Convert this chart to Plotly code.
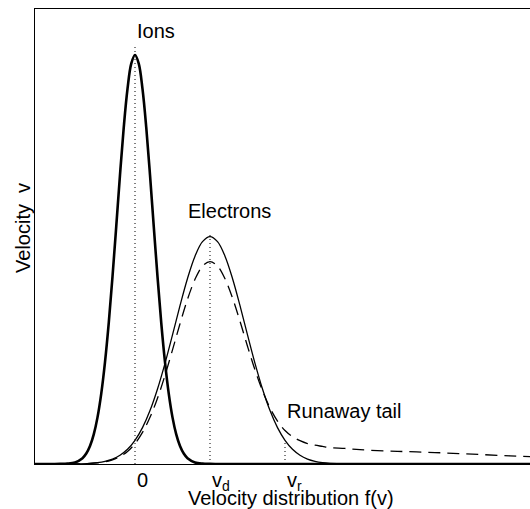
import plotly.graph_objects as go

# ---- data (velocity in units of v_d, f normalised to ion peak) ----
ion_v = [-1.4, -1.1, -1.0, -0.9, -0.8, -0.7, -0.65, -0.6, -0.55, -0.5, -0.45, -0.4, -0.35, -0.3,
         -0.25, -0.2, -0.15, -0.1, -0.05, 0.0, 0.05, 0.1, 0.15, 0.2, 0.25, 0.3, 0.35, 0.4, 0.45,
         0.5, 0.55, 0.6, 0.65, 0.7, 0.8, 0.9, 1.0, 1.1, 5.4]
ion_f = [0.0, 0.00003, 0.0002, 0.0009, 0.0039, 0.0142, 0.0255, 0.0439, 0.0724, 0.114, 0.172, 0.249,
         0.345, 0.458, 0.581, 0.707, 0.823, 0.917, 0.979, 1.0, 0.979, 0.917, 0.823, 0.707, 0.581,
         0.458, 0.345, 0.249, 0.172, 0.114, 0.0724, 0.0439, 0.0255, 0.0142, 0.0039, 0.0009, 0.0002,
         0.00003, 0.0]

elec_v = [-1.4, -0.8, -0.6, -0.5, -0.4, -0.3, -0.2, -0.1, 0.0, 0.1, 0.2, 0.3, 0.4, 0.5, 0.6, 0.7,
          0.8, 0.9, 1.0, 1.1, 1.2, 1.3, 1.4, 1.5, 1.6, 1.7, 1.8, 1.9, 2.0, 2.1, 2.2, 2.3, 2.4, 2.5,
          2.6, 2.8, 5.4]
elec_f = [0.0, 0.0004, 0.0017, 0.0034, 0.0066, 0.0121, 0.0213, 0.0359, 0.0578, 0.0889, 0.1306,
          0.1834, 0.2461, 0.3157, 0.3871, 0.4535, 0.5079, 0.5436, 0.556, 0.5436, 0.5079, 0.4535,
          0.3871, 0.3157, 0.2461, 0.1834, 0.1306, 0.0889, 0.0578, 0.0359, 0.0213, 0.0121, 0.0066,
          0.0034, 0.0017, 0.0004, 0.0]

tail_v = [-1.4, -0.8, -0.6, -0.5, -0.4, -0.3, -0.2, -0.1, 0.0, 0.1, 0.2, 0.3, 0.4, 0.5, 0.6, 0.7,
          0.8, 0.9, 1.0, 1.1, 1.2, 1.3, 1.4, 1.5, 1.6, 1.7, 1.8, 1.9, 2.0, 2.1, 2.2, 2.3, 2.4, 2.5,
          2.6, 2.8, 3.0, 3.5, 4.0, 4.5, 5.0, 5.4]
tail_f = [0.0, 0.0003, 0.0014, 0.0028, 0.0055, 0.0103, 0.0182, 0.0308, 0.0499, 0.0772, 0.1141,
          0.1609, 0.2168, 0.2790, 0.3429, 0.4027, 0.4516, 0.4838, 0.495, 0.484, 0.453, 0.406,
          0.349, 0.288, 0.230, 0.179, 0.137, 0.105, 0.082, 0.067, 0.057, 0.050, 0.046, 0.043,
          0.040, 0.038, 0.035, 0.031, 0.028, 0.024, 0.020, 0.017]

tick_vals = [0.0, 1.0, 2.0]
tick_text = ["0", "v<sub>d</sub>", "v<sub>r</sub>"]
guide_top = [1.02, 0.567, 0.055]

labels = ["Ions", "Electrons", "Runaway tail"]
label_v = [0.0, 0.68, 2.0]
label_f = [1.058, 0.619, 0.130]

x_title = "Velocity distribution f(v)"
y_title = "Velocity\u00a0\u00a0v"

FONT = "Liberation Sans, Arial, Helvetica, sans-serif"

fig = go.Figure()

for v, top in zip(tick_vals, guide_top):
    fig.add_trace(go.Scatter(x=[v, v], y=[0, top], mode="lines",
                             line=dict(color="black", width=1, dash="1px,3px"),
                             hoverinfo="skip"))

fig.add_trace(go.Scatter(x=tail_v, y=tail_f, mode="lines", line_shape="spline",
                         line=dict(color="black", width=1.3, dash="12px,7px")))
fig.add_trace(go.Scatter(x=elec_v, y=elec_f, mode="lines", line_shape="spline",
                         line=dict(color="black", width=1.3)))
fig.add_trace(go.Scatter(x=ion_v, y=ion_f, mode="lines", line_shape="spline",
                         line=dict(color="black", width=2.6)))

ann = []
for t, x, y in zip(labels, label_v, label_f):
    ann.append(dict(x=x, y=y, xref="x", yref="y", text=t, showarrow=False,
                    xanchor="left", yanchor="middle", font=dict(size=20, color="black", family=FONT)))
for v, t in zip(tick_vals, tick_text):
    ann.append(dict(x=v, y=0, xref="x", yref="y", text=t, showarrow=False,
                    xanchor="left", yanchor="top", yshift=-3,
                    font=dict(size=20, color="black", family=FONT)))
ann.append(dict(x=0.517, y=-0.0757, xref="paper", yref="paper", text=x_title, showarrow=False,
                xanchor="center", yanchor="middle", font=dict(size=20, color="black", family=FONT)))
ann.append(dict(x=-0.024, y=0.519, xref="paper", yref="paper", text=y_title, showarrow=False,
                textangle=-90, xanchor="center", yanchor="middle",
                font=dict(size=20, color="black", family=FONT)))

fig.update_layout(
    width=530, height=509,
    margin=dict(l=35, r=0, t=9, b=45),
    paper_bgcolor="white", plot_bgcolor="white",
    showlegend=False,
    annotations=ann,
    xaxis=dict(range=[-1.3333, 5.2667], showgrid=False, zeroline=False, showticklabels=False,
               ticks="", showline=True, linecolor="black", linewidth=1, mirror=True),
    yaxis=dict(range=[0, 1.1125], showgrid=False, zeroline=False, showticklabels=False,
               ticks="", showline=True, linecolor="black", linewidth=1),
)

fig.write_html("out.html", config={"displayModeBar": False},
               post_script="document.body.style.margin='0px';document.body.style.overflow='hidden';")
